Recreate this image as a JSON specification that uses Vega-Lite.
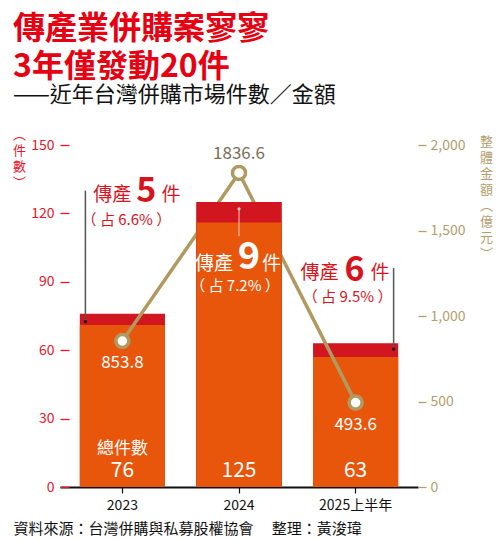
{
  "$schema": "https://vega.github.io/schema/vega-lite/v6.json",
  "width": 358,
  "height": 342,
  "autosize": {"type": "none"},
  "padding": {"left": 60, "top": 145, "right": 82, "bottom": 53},
  "background": "white",
  "title": {
    "text": ["傳產業併購案寥寥", "3年僅發動20件"],
    "subtitle": "——近年台灣併購市場件數／金額",
    "anchor": "start",
    "frame": "group",
    "dx": -47,
    "offset": 21,
    "font": "Noto Sans CJK TC",
    "fontSize": 32,
    "fontWeight": "bold",
    "lineHeight": 38,
    "color": "#E60012",
    "subtitleFont": "Noto Sans CJK TC",
    "subtitleFontSize": 22,
    "subtitleColor": "#111111",
    "subtitlePadding": 1
  },
  "data": {
    "values": [
      {"year": "2023", "total": 76, "base": 71, "media": 5, "share": "（ 占 6.6% ）", "amount": 853.8},
      {"year": "2024", "total": 125, "base": 116, "media": 9, "share": "（ 占 7.2% ）", "amount": 1836.6},
      {"year": "2025上半年", "total": 63, "base": 57, "media": 6, "share": "（ 占 9.5% ）", "amount": 493.6}
    ]
  },
  "resolve": {"scale": {"y": "independent"}},
  "layer": [
    {
      "mark": {"type": "bar", "color": "#D2161F"},
      "encoding": {
        "x": {
          "field": "year", "type": "nominal", "sort": null,
          "scale": {"paddingInner": 0.27, "paddingOuter": 0.17},
          "axis": {
            "title": "資料來源：台灣併購與私募股權協會　 整理：黃浚瑋",
            "titleX": -47, "titleY": 41, "titleAlign": "left", "titleBaseline": "middle",
            "titleFontSize": 15, "titleFontWeight": "normal", "titleColor": "#111111",
            "labelAngle": 0, "labelFontSize": 14, "labelColor": "#111111", "labelPadding": 5,
            "domainColor": "#111111", "domainWidth": 2, "tickColor": "#111111", "tickSize": 6, "tickWidth": 1.2
          }
        },
        "y": {
          "field": "total", "type": "quantitative",
          "scale": {"domain": [0, 150], "nice": false},
          "axis": {
            "orient": "left", "values": [0, 30, 60, 90, 120, 150], "offset": -9,
            "domain": false, "grid": false, "tickSize": 9, "tickWidth": 1.3, "tickColor": "#E8152B",
            "labelColor": "#E8152B", "labelFontSize": 14, "labelPadding": 6,
            "title": ["︵", "件", "數", "︶"], "titleAngle": 0, "titleX": -50, "titleY": -17,
            "titleAlign": "center", "titleBaseline": "top", "titleFontSize": 13, "titleLineHeight": 16,
            "titleColor": "#E8152B", "titleFontWeight": "normal"
          }
        }
      }
    },
    {
      "mark": {"type": "bar", "color": "#E8560C"},
      "encoding": {
        "x": {"field": "year", "type": "nominal", "sort": null},
        "y": {"field": "base", "type": "quantitative", "scale": {"domain": [0, 150], "nice": false}, "axis": null}
      }
    },
    {
      "mark": {"type": "line", "color": "#B19A60", "strokeWidth": 3.5},
      "encoding": {
        "x": {"field": "year", "type": "nominal", "sort": null},
        "y": {
          "field": "amount", "type": "quantitative",
          "scale": {"domain": [0, 2000], "nice": false},
          "axis": {
            "orient": "right", "values": [0, 500, 1000, 1500, 2000], "format": ",.0f",
            "domain": false, "grid": false, "tickSize": 8, "tickWidth": 1.3, "tickColor": "#B39E6E",
            "labelColor": "#B39E6E", "labelFontSize": 14, "labelPadding": 4,
            "title": ["整", "體", "金", "額", "︵", "億", "元", "︶"], "titleAngle": 0, "titleX": 68, "titleY": -10,
            "titleAlign": "center", "titleBaseline": "top", "titleFontSize": 13, "titleLineHeight": 16,
            "titleColor": "#B39E6E", "titleFontWeight": "normal"
          }
        }
      }
    },
    {
      "transform": [{"filter": "datum.year === '2024'"}],
      "mark": {"type": "bar", "color": "#D2161F"},
      "encoding": {
        "x": {"field": "year", "type": "nominal", "sort": null},
        "y": {"field": "total", "type": "quantitative", "scale": {"domain": [0, 150], "nice": false}, "axis": null}
      }
    },
    {
      "transform": [{"filter": "datum.year === '2024'"}],
      "mark": {"type": "bar", "color": "#E8560C"},
      "encoding": {
        "x": {"field": "year", "type": "nominal", "sort": null},
        "y": {"field": "base", "type": "quantitative", "scale": {"domain": [0, 150], "nice": false}, "axis": null}
      }
    },
    {
      "mark": {"type": "circle", "fill": "white", "stroke": "#B19A60", "strokeWidth": 3.5, "size": 170, "opacity": 1},
      "encoding": {
        "x": {"field": "year", "type": "nominal", "sort": null},
        "y": {"field": "amount", "type": "quantitative", "scale": {"domain": [0, 2000], "nice": false}, "axis": null}
      }
    },
    {
      "transform": [{"filter": "datum.year !== '2024'"}],
      "mark": {"type": "text", "baseline": "middle", "dy": 22, "fontSize": 17, "color": "white"},
      "encoding": {
        "x": {"field": "year", "type": "nominal", "sort": null},
        "y": {"field": "amount", "type": "quantitative", "scale": {"domain": [0, 2000], "nice": false}, "axis": null},
        "text": {"field": "amount", "type": "quantitative", "format": ".1f"}
      }
    },
    {
      "transform": [{"filter": "datum.year === '2024'"}],
      "mark": {"type": "text", "baseline": "middle", "dy": -19, "fontSize": 17, "color": "#7A6E55"},
      "encoding": {
        "x": {"field": "year", "type": "nominal", "sort": null},
        "y": {"field": "amount", "type": "quantitative", "scale": {"domain": [0, 2000], "nice": false}, "axis": null},
        "text": {"field": "amount", "type": "quantitative", "format": ".1f"}
      }
    },
    {
      "mark": {"type": "text", "baseline": "middle", "dy": -16, "fontSize": 21, "color": "white"},
      "encoding": {
        "x": {"field": "year", "type": "nominal", "sort": null},
        "y": {"datum": 0, "type": "quantitative", "scale": {"domain": [0, 150], "nice": false}, "axis": null},
        "text": {"field": "total", "type": "quantitative"}
      }
    },
    {
      "transform": [{"filter": "datum.year === '2023'"}],
      "mark": {"type": "text", "baseline": "middle", "dy": -38, "fontSize": 17, "color": "white"},
      "encoding": {
        "x": {"field": "year", "type": "nominal", "sort": null},
        "y": {"datum": 0, "type": "quantitative", "scale": {"domain": [0, 150], "nice": false}, "axis": null},
        "text": {"value": "總件數"}
      }
    },
    {
      "transform": [{"filter": "datum.year === '2023'"}],
      "mark": {"type": "text", "align": "right", "baseline": "middle", "dx": 9, "fontSize": 19, "color": "#D7141E"},
      "encoding": {
        "x": {"field": "year", "type": "nominal", "sort": null},
        "y": {"datum": 128, "type": "quantitative", "scale": {"domain": [0, 150], "nice": false}, "axis": null},
        "text": {"value": "傳產"}
      }
    },
    {
      "transform": [{"filter": "datum.year === '2023'"}],
      "mark": {"type": "text", "align": "center", "baseline": "middle", "dx": 24, "dy": -3, "fontSize": 34, "fontWeight": "bold", "color": "#D7141E"},
      "encoding": {
        "x": {"field": "year", "type": "nominal", "sort": null},
        "y": {"datum": 128, "type": "quantitative", "scale": {"domain": [0, 150], "nice": false}, "axis": null},
        "text": {"field": "media", "type": "quantitative"}
      }
    },
    {
      "transform": [{"filter": "datum.year === '2023'"}],
      "mark": {"type": "text", "align": "left", "baseline": "middle", "dx": 39, "fontSize": 19, "color": "#D7141E"},
      "encoding": {
        "x": {"field": "year", "type": "nominal", "sort": null},
        "y": {"datum": 128, "type": "quantitative", "scale": {"domain": [0, 150], "nice": false}, "axis": null},
        "text": {"value": "件"}
      }
    },
    {
      "transform": [{"filter": "datum.year === '2023'"}],
      "mark": {"type": "text", "align": "center", "baseline": "middle", "dx": 4, "dy": 25, "fontSize": 15, "color": "#D7141E"},
      "encoding": {
        "x": {"field": "year", "type": "nominal", "sort": null},
        "y": {"datum": 128, "type": "quantitative", "scale": {"domain": [0, 150], "nice": false}, "axis": null},
        "text": {"field": "share"}
      }
    },
    {
      "transform": [{"filter": "datum.year === '2024'"}],
      "mark": {"type": "text", "align": "right", "baseline": "middle", "dx": -6, "fontSize": 19, "color": "white"},
      "encoding": {
        "x": {"field": "year", "type": "nominal", "sort": null},
        "y": {"datum": 98, "type": "quantitative", "scale": {"domain": [0, 150], "nice": false}, "axis": null},
        "text": {"value": "傳產"}
      }
    },
    {
      "transform": [{"filter": "datum.year === '2024'"}],
      "mark": {"type": "text", "align": "center", "baseline": "middle", "dx": 10, "dy": -6, "fontSize": 38, "fontWeight": "bold", "color": "white"},
      "encoding": {
        "x": {"field": "year", "type": "nominal", "sort": null},
        "y": {"datum": 98, "type": "quantitative", "scale": {"domain": [0, 150], "nice": false}, "axis": null},
        "text": {"field": "media", "type": "quantitative"}
      }
    },
    {
      "transform": [{"filter": "datum.year === '2024'"}],
      "mark": {"type": "text", "align": "left", "baseline": "middle", "dx": 23, "fontSize": 19, "color": "white"},
      "encoding": {
        "x": {"field": "year", "type": "nominal", "sort": null},
        "y": {"datum": 98, "type": "quantitative", "scale": {"domain": [0, 150], "nice": false}, "axis": null},
        "text": {"value": "件"}
      }
    },
    {
      "transform": [{"filter": "datum.year === '2024'"}],
      "mark": {"type": "text", "align": "center", "baseline": "middle", "dx": -4, "dy": 22, "fontSize": 15, "color": "white"},
      "encoding": {
        "x": {"field": "year", "type": "nominal", "sort": null},
        "y": {"datum": 98, "type": "quantitative", "scale": {"domain": [0, 150], "nice": false}, "axis": null},
        "text": {"field": "share"}
      }
    },
    {
      "transform": [{"filter": "datum.year === '2025上半年'"}],
      "mark": {"type": "text", "align": "right", "baseline": "middle", "dx": -17, "fontSize": 19, "color": "#D7141E"},
      "encoding": {
        "x": {"field": "year", "type": "nominal", "sort": null},
        "y": {"datum": 94, "type": "quantitative", "scale": {"domain": [0, 150], "nice": false}, "axis": null},
        "text": {"value": "傳產"}
      }
    },
    {
      "transform": [{"filter": "datum.year === '2025上半年'"}],
      "mark": {"type": "text", "align": "center", "baseline": "middle", "dx": -1, "dy": -2, "fontSize": 34, "fontWeight": "bold", "color": "#D7141E"},
      "encoding": {
        "x": {"field": "year", "type": "nominal", "sort": null},
        "y": {"datum": 94, "type": "quantitative", "scale": {"domain": [0, 150], "nice": false}, "axis": null},
        "text": {"field": "media", "type": "quantitative"}
      }
    },
    {
      "transform": [{"filter": "datum.year === '2025上半年'"}],
      "mark": {"type": "text", "align": "left", "baseline": "middle", "dx": 15, "fontSize": 19, "color": "#D7141E"},
      "encoding": {
        "x": {"field": "year", "type": "nominal", "sort": null},
        "y": {"datum": 94, "type": "quantitative", "scale": {"domain": [0, 150], "nice": false}, "axis": null},
        "text": {"value": "件"}
      }
    },
    {
      "transform": [{"filter": "datum.year === '2025上半年'"}],
      "mark": {"type": "text", "align": "center", "baseline": "middle", "dx": -8, "dy": 24, "fontSize": 15, "color": "#D7141E"},
      "encoding": {
        "x": {"field": "year", "type": "nominal", "sort": null},
        "y": {"datum": 94, "type": "quantitative", "scale": {"domain": [0, 150], "nice": false}, "axis": null},
        "text": {"field": "share"}
      }
    },
    {
      "transform": [{"filter": "datum.year === '2023'"}],
      "mark": {"type": "rule", "color": "#555555", "strokeWidth": 1.5, "xOffset": -37},
      "encoding": {
        "x": {"field": "year", "type": "nominal", "sort": null},
        "y": {"datum": 130, "type": "quantitative", "scale": {"domain": [0, 150], "nice": false}, "axis": null},
        "y2": {"datum": 72.5}
      }
    },
    {
      "transform": [{"filter": "datum.year === '2023'"}],
      "mark": {"type": "circle", "color": "#111111", "size": 10, "opacity": 1, "xOffset": -37},
      "encoding": {
        "x": {"field": "year", "type": "nominal", "sort": null},
        "y": {"datum": 72.5, "type": "quantitative", "scale": {"domain": [0, 150], "nice": false}, "axis": null}
      }
    },
    {
      "transform": [{"filter": "datum.year === '2024'"}],
      "mark": {"type": "rule", "color": "#F6CBBE", "strokeWidth": 1},
      "encoding": {
        "x": {"field": "year", "type": "nominal", "sort": null},
        "y": {"datum": 122, "type": "quantitative", "scale": {"domain": [0, 150], "nice": false}, "axis": null},
        "y2": {"datum": 110}
      }
    },
    {
      "transform": [{"filter": "datum.year === '2024'"}],
      "mark": {"type": "circle", "color": "#F6CBBE", "size": 10, "opacity": 1},
      "encoding": {
        "x": {"field": "year", "type": "nominal", "sort": null},
        "y": {"datum": 122, "type": "quantitative", "scale": {"domain": [0, 150], "nice": false}, "axis": null}
      }
    },
    {
      "transform": [{"filter": "datum.year === '2025上半年'"}],
      "mark": {"type": "rule", "color": "#555555", "strokeWidth": 1.5, "xOffset": 38},
      "encoding": {
        "x": {"field": "year", "type": "nominal", "sort": null},
        "y": {"datum": 96, "type": "quantitative", "scale": {"domain": [0, 150], "nice": false}, "axis": null},
        "y2": {"datum": 60.5}
      }
    },
    {
      "transform": [{"filter": "datum.year === '2025上半年'"}],
      "mark": {"type": "circle", "color": "#111111", "size": 10, "opacity": 1, "xOffset": 38},
      "encoding": {
        "x": {"field": "year", "type": "nominal", "sort": null},
        "y": {"datum": 60.5, "type": "quantitative", "scale": {"domain": [0, 150], "nice": false}, "axis": null}
      }
    }
  ],
  "config": {
    "font": "Noto Sans CJK TC",
    "view": {"stroke": null}
  }
}
